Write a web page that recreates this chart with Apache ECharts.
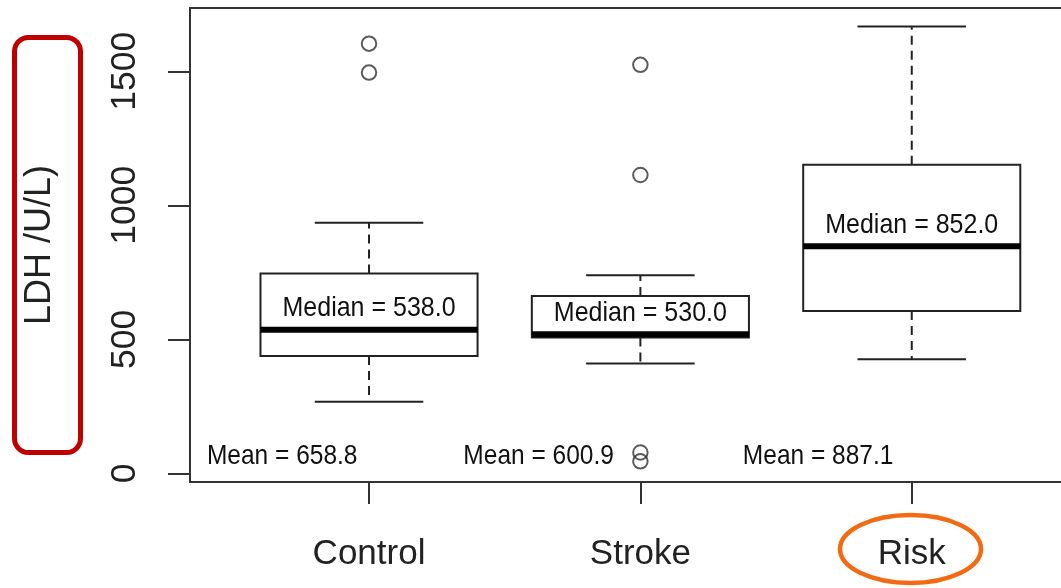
<!DOCTYPE html>
<html><head><meta charset="utf-8">
<script src="https://cdn.jsdelivr.net/npm/echarts@6/dist/echarts.min.js"></script>
<style>html,body{margin:0;padding:0;background:#fff}#main{width:1061px;height:588px}</style>
</head><body><div id="main"></div>
<script>
// ---- data ----
const categories = ['Control', 'Stroke', 'Risk'];
const lowerWhisker = [267, 410, 426];
const q1 = [438, 507, 606];
const medianLine = [536, 519, 847];
const q3 = [746, 662, 1151];
const upperWhisker = [935, 739, 1667];
const medianLabels = ['538.0', '530.0', '852.0'];
const meanLabels = ['658.8', '600.9', '887.1'];
const outlierCategory = [1, 1, 2, 2, 2, 2];
const outlierValue = [1603, 1495, 1524, 1113, 78, 45];
const yTicks = [0, 500, 1000, 1500];
const yAxisName = 'LDH /U/L)';

// ---- presentation settings ----
const FONT = '"Liberation Sans", Arial, sans-serif';
const boxHalf = 0.4, capHalf = 0.2;
const meanLabelOffset = [-0.32, -0.375, -0.345];
const meanLabelLevel = 62;
const medianLabelGap = 21;

const boxData = categories.map((c, i) => [i + 1, lowerWhisker[i], q1[i], medianLine[i], q3[i], upperWhisker[i]]);
const outlierData = outlierValue.map((v, i) => [outlierCategory[i], v]);

function renderBox(params, api) {
  const i = params.dataIndex;
  const x = api.value(0);
  const lw = api.value(1), b1 = api.value(2), md = api.value(3), b3 = api.value(4), uw = api.value(5);
  const pL = api.coord([x - boxHalf, b3]);
  const pR = api.coord([x + boxHalf, b1]);
  const cx = api.coord([x, 0])[0];
  const yLw = api.coord([x, lw])[1], yUw = api.coord([x, uw])[1];
  const yQ1 = pR[1], yQ3 = pL[1], yMd = api.coord([x, md])[1];
  const cL = api.coord([x - capHalf, 0])[0], cR = api.coord([x + capHalf, 0])[0];
  const mPos = api.coord([x + meanLabelOffset[i], meanLabelLevel]);
  const line = { stroke: '#222', lineWidth: 2 };
  const dash = { stroke: '#222', lineWidth: 2, lineDash: [9, 6] };
  return {
    type: 'group',
    children: [
      { type: 'line', shape: { x1: cx, y1: yQ3, x2: cx, y2: yUw }, style: dash },
      { type: 'line', shape: { x1: cx, y1: yQ1, x2: cx, y2: yLw }, style: dash },
      { type: 'line', shape: { x1: cL, y1: yUw, x2: cR, y2: yUw }, style: line },
      { type: 'line', shape: { x1: cL, y1: yLw, x2: cR, y2: yLw }, style: line },
      { type: 'rect', shape: { x: pL[0], y: yQ3, width: pR[0] - pL[0], height: yQ1 - yQ3 }, style: { fill: '#fff', stroke: '#222', lineWidth: 2 } },
      { type: 'line', shape: { x1: pL[0], y1: yMd, x2: pR[0], y2: yMd }, style: { stroke: '#000', lineWidth: 6 } },
      { type: 'text', x: cx, y: yMd - medianLabelGap, scaleY: 1.12,
        style: { text: 'Median = ' + medianLabels[i], x: 0, y: 0, align: 'center', verticalAlign: 'middle', font: '25px ' + FONT, fill: '#111' } },
      { type: 'text', x: mPos[0], y: mPos[1], scaleY: 1.12,
        style: { text: 'Mean = ' + meanLabels[i], x: 0, y: 0, align: 'center', verticalAlign: 'middle', font: '24.5px ' + FONT, fill: '#111' } }
    ]
  };
}

const chart = echarts.init(document.getElementById('main'), null, { renderer: 'canvas' });
chart.setOption({
  animation: false,
  backgroundColor: '#fff',
  grid: { left: 190, top: 8, right: -19, bottom: 106, show: true, borderColor: '#333', borderWidth: 2, backgroundColor: 'transparent', containLabel: false, outerBoundsMode: 'none' },
  xAxis: {
    type: 'value', min: 0.3403, max: 3.62,
    axisLine: { show: false, onZero: false },
    splitLine: { show: false },
    axisTick: { show: true, customValues: [1, 2, 3], length: 22, inside: false, lineStyle: { color: '#333', width: 2 } },
    axisLabel: { show: true, customValues: [1, 2, 3], margin: 55, fontSize: 35, fontFamily: FONT, color: '#222',
      formatter: v => categories[Math.round(v) - 1] || '' }
  },
  yAxis: {
    type: 'value', min: -32, max: 1736,
    name: yAxisName, nameLocation: 'middle', nameRotate: 90, nameGap: 132,
    nameTextStyle: { fontSize: 36, fontFamily: FONT, color: '#222' },
    axisLine: { show: false, onZero: false },
    splitLine: { show: false },
    axisTick: { show: true, customValues: yTicks, length: 22, inside: false, lineStyle: { color: '#333', width: 2 } },
    axisLabel: { show: true, customValues: yTicks, rotate: 90, margin: 47, fontSize: 35.5, fontFamily: FONT, color: '#222',
      formatter: v => String(v) }
  },
  series: [
    { type: 'custom', renderItem: renderBox, data: boxData, encode: { x: 0, y: [1, 2, 3, 4, 5] }, clip: false, z: 2 },
    { type: 'scatter', data: outlierData, symbol: 'circle', symbolSize: 14.5,
      itemStyle: { color: 'transparent', borderColor: '#333', borderWidth: 2 }, z: 3 }
  ],
  graphic: [
    { type: 'rect', shape: { x: 14.5, y: 37.5, width: 66, height: 415, r: 14 }, style: { fill: 'none', stroke: '#c00000', lineWidth: 5 }, z: 10 },
    { type: 'ellipse', shape: { cx: 910.5, cy: 549, rx: 70.5, ry: 34 }, style: { fill: 'none', stroke: '#f26a11', lineWidth: 4.5 }, z: 10 }
  ]
});
</script></body></html>
